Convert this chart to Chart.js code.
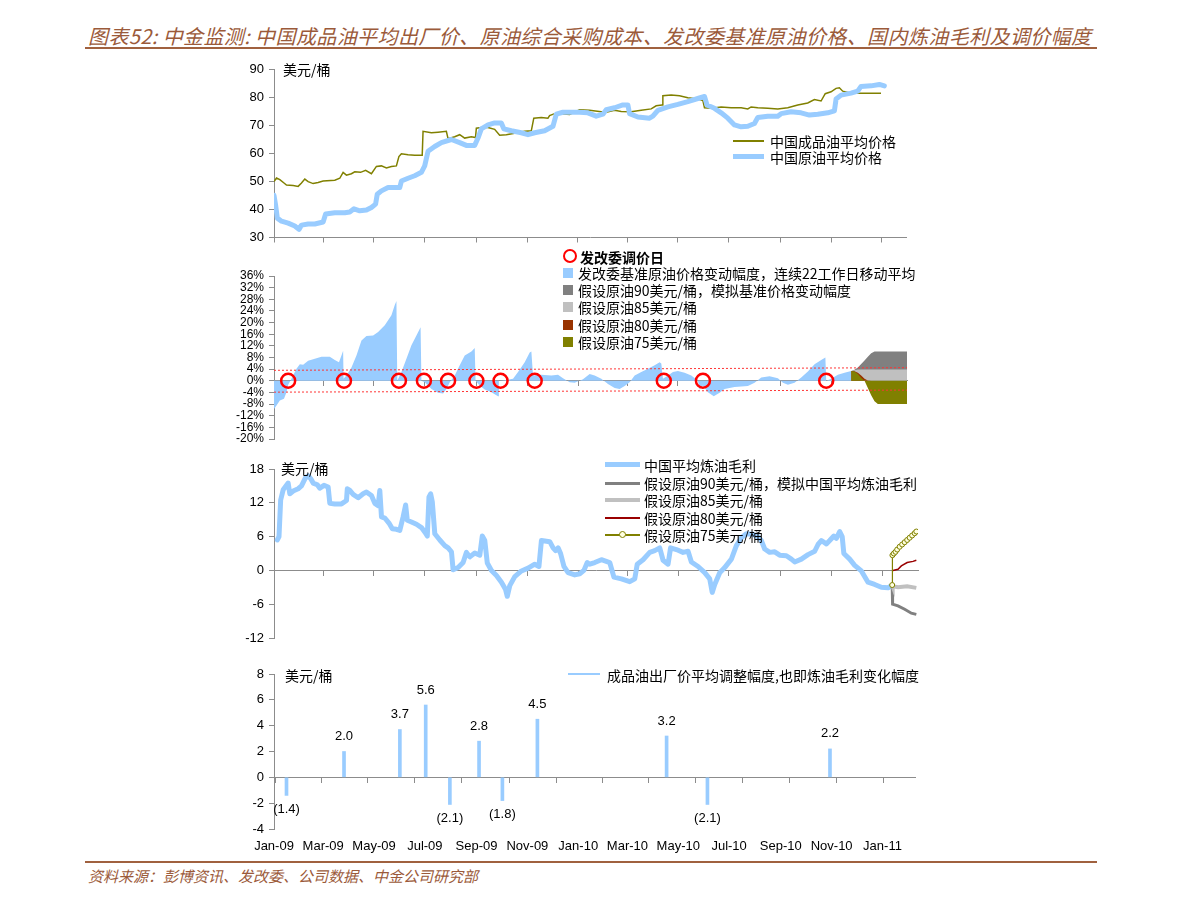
<!DOCTYPE html>
<html lang="zh-CN">
<head>
<meta charset="utf-8">
<title>中金监测</title>
<script src="https://cdn.jsdelivr.net/npm/chart.js@4.4.1/dist/chart.umd.min.js"></script>
<style>
html,body{margin:0;padding:0;background:#fff;}
#page{position:relative;width:1191px;height:904px;overflow:hidden;font-family:"Noto Sans CJK SC","Liberation Sans",sans-serif;}
#page canvas{position:absolute;}
.t{position:absolute;white-space:nowrap;line-height:20px;height:20px;}
.title{font-size:20px;font-style:italic;color:#9B5A3A;letter-spacing:0.4px;}
.foot{font-size:15px;font-style:italic;color:#9B5A3A;}
.rule{position:absolute;left:85px;width:1012px;height:2px;background:#A0613F;}
.leg{font-size:14px;color:#000;}
.sw{position:absolute;}
</style>
</head>
<body>
<div id="page">
  <div class="t title" style="left:88px;top:26px;">图表52: 中金监测: 中国成品油平均出厂价、原油综合采购成本、发改委基准原油价格、国内炼油毛利及调价幅度</div>
  <div class="rule" style="top:47px;"></div>

  <canvas id="c1" width="730" height="194" style="left:200px;top:55px;width:730px;height:194px;"></canvas>
  <canvas id="c2" width="730" height="200" style="left:200px;top:250px;width:730px;height:200px;"></canvas>
  <canvas id="c3" width="730" height="200" style="left:200px;top:455px;width:730px;height:200px;"></canvas>
  <canvas id="c4" width="730" height="205" style="left:200px;top:655px;width:730px;height:205px;"></canvas>

  <!-- panel 1 -->
  <div class="t leg" style="left:283px;top:59px;">美元/桶</div>
  <div class="sw" style="left:733px;top:140px;width:31px;height:1.5px;background:#808000;"></div>
  <div class="t leg" style="left:770px;top:131px;">中国成品油平均价格</div>
  <div class="sw" style="left:733px;top:154px;width:31px;height:5px;background:#99CCFF;"></div>
  <div class="t leg" style="left:770px;top:147px;">中国原油平均价格</div>

  <!-- panel 2 -->
  <div class="sw" style="left:563px;top:249px;width:10px;height:10px;border:2.5px solid #FF0000;border-radius:50%;"></div>
  <div class="t leg" style="left:580px;top:247px;font-weight:bold;">发改委调价日</div>
  <div class="sw" style="left:563px;top:268px;width:10px;height:10px;background:#99CCFF;"></div>
  <div class="t leg" style="left:578px;top:263px;">发改委基准原油价格变动幅度，连续22工作日移动平均</div>
  <div class="sw" style="left:563px;top:285px;width:10px;height:10px;background:#808080;"></div>
  <div class="t leg" style="left:578px;top:280px;">假设原油90美元/桶，模拟基准价格变动幅度</div>
  <div class="sw" style="left:563px;top:302px;width:10px;height:10px;background:#C0C0C0;"></div>
  <div class="t leg" style="left:578px;top:297px;">假设原油85美元/桶</div>
  <div class="sw" style="left:563px;top:320px;width:10px;height:10px;background:#993300;"></div>
  <div class="t leg" style="left:578px;top:315px;">假设原油80美元/桶</div>
  <div class="sw" style="left:563px;top:337px;width:10px;height:10px;background:#808000;"></div>
  <div class="t leg" style="left:578px;top:332px;">假设原油75美元/桶</div>

  <!-- panel 3 -->
  <div class="t leg" style="left:281px;top:458px;">美元/桶</div>
  <div class="sw" style="left:605px;top:462px;width:35px;height:5px;background:#99CCFF;"></div>
  <div class="t leg" style="left:644px;top:455px;">中国平均炼油毛利</div>
  <div class="sw" style="left:605px;top:482px;width:35px;height:3px;background:#808080;"></div>
  <div class="t leg" style="left:644px;top:473px;">假设原油90美元/桶，模拟中国平均炼油毛利</div>
  <div class="sw" style="left:605px;top:498px;width:35px;height:4px;background:#C0C0C0;"></div>
  <div class="t leg" style="left:644px;top:490px;">假设原油85美元/桶</div>
  <div class="sw" style="left:605px;top:517px;width:35px;height:1.5px;background:#990000;"></div>
  <div class="t leg" style="left:644px;top:508px;">假设原油80美元/桶</div>
  <div class="sw" style="left:605px;top:534px;width:35px;height:1.5px;background:#808000;"></div>
  <div class="sw" style="left:619px;top:531px;width:5px;height:5px;border:1px solid #808000;border-radius:50%;background:#FFFFE0;"></div>
  <div class="t leg" style="left:644px;top:525px;">假设原油75美元/桶</div>

  <!-- panel 4 -->
  <div class="t leg" style="left:285px;top:665px;">美元/桶</div>
  <div class="sw" style="left:568px;top:673px;width:32px;height:2px;background:#99CCFF;"></div>
  <div class="t leg" style="left:607px;top:665px;">成品油出厂价平均调整幅度,也即炼油毛利变化幅度</div>

  <div class="rule" style="top:861px;"></div>
  <div class="t foot" style="left:88px;top:866px;">资料来源：彭博资讯、发改委、公司数据、中金公司研究部</div>
</div>

<script>
// ---------- data (days counted from 1 Jan 2009) ----------
const tickDays   = [0, 59, 120, 181, 243, 304, 365, 424, 485, 546, 608, 669, 730];
const tickLabels = ['Jan-09','Mar-09','May-09','Jul-09','Sep-09','Nov-09','Jan-10','Mar-10','May-10','Jul-10','Sep-10','Nov-10','Jan-11'];

// panel 1: China average product price / crude price (USD/bbl)
const productDays  = [0,3,7,12,15,23,29,33,37,41,47,53,59,73,79,83,87,93,97,104,110,117,123,129,135,141,147,150,153,161,169,178,179,189,197,207,209,217,223,229,237,242,243,249,257,265,271,279,289,301,309,312,321,329,331,337,345,355,367,379,393,399,409,417,429,441,453,459,466,467,477,487,497,509,515,517,525,537,549,561,569,573,581,593,605,617,629,641,649,657,662,669,675,679,683,693,729];
const productPrice = [49.9,51.2,50.6,49.4,48.7,48.5,48.2,49.4,50.8,49.9,49.2,49.6,50.1,50.4,51.1,53.2,52.2,52.7,53.4,53.2,53.9,52.7,55.3,55.5,54.8,55.3,55.5,58.8,59.8,59.5,59.3,59.3,67.8,67.3,67.5,67.8,65.2,65.9,66.6,65.4,65.9,65.6,68.9,69.2,69.2,68.5,66.4,66.6,67.1,67.8,68.0,72.5,72.7,72.5,73.4,74.1,74.1,73.8,75.5,75.3,74.8,74.6,75.3,74.9,74.8,75.3,75.8,76.9,77.2,80.5,80.7,80.5,79.8,79.3,78.8,76.2,76.0,76.5,76.2,76.2,75.8,76.5,76.2,76.0,75.8,76.2,77.2,77.9,79.1,78.6,81.2,81.9,83.1,83.3,82.1,81.4,81.4];
const crudeDays  = [0,2,4,9,17,25,30,33,41,49,59,62,73,85,91,96,103,111,117,122,124,129,137,151,153,161,169,177,181,185,193,201,213,223,231,241,245,249,257,265,273,276,285,297,305,313,325,335,339,347,355,367,377,387,395,399,409,419,425,427,437,451,455,461,473,485,497,509,517,520,529,537,545,553,561,569,577,581,593,605,609,621,633,643,653,665,673,675,681,693,701,705,717,727,733];
const crudePrice = [45.0,41.4,36.9,35.8,35.1,34.1,32.9,34.4,34.8,34.8,35.5,38.4,38.8,38.8,39.1,40.2,39.5,39.8,40.7,41.9,45.4,46.6,47.8,47.8,50.1,51.1,52.0,53.2,55.5,60.7,62.4,63.8,64.9,63.8,62.8,62.8,65.4,68.7,70.1,70.8,70.8,68.7,68.0,67.3,66.6,67.3,68.0,69.6,73.9,74.6,74.6,74.6,74.4,73.2,73.9,75.5,76.2,77.2,77.2,74.1,72.9,72.5,73.2,75.3,76.5,77.4,78.4,79.5,80.2,77.2,76.0,74.4,72.5,70.1,69.4,69.6,70.6,72.7,73.2,73.2,74.1,74.8,74.4,73.6,73.9,74.4,75.1,79.3,80.7,81.4,82.1,83.8,84.0,84.5,84.0];

// panel 2: NDRC benchmark crude change, 22-day moving average (%)
const ndrcDays   = [0,3,7,12,15,17,21,27,31,35,41,49,57,67,73,78,81,83,83.5,87,93,99,105,111,119,125,133,141,145,147,148,153,159,165,171,176,177,181,189,197,203,207,211,217,223,229,237,241,242,247,253,261,269,270,277,287,293,301,307,309,311,321,333,341,347,355,361,371,379,385,393,401,409,415,421,427,433,441,449,457,463,465,467,473,479,485,493,501,509,511,515,521,528,535,541,553,569,577,585,595,605,611,617,625,633,641,649,657,662,663,669,677,685,693];
const ndrcChange = [-9.7,-8.5,-6.8,-6.2,-3.9,-1.4,0.7,4.1,5.7,5.5,6.9,7.6,8.3,8.3,7.1,6.4,8.7,10.3,0.7,1.8,4.6,8.7,13.8,15.4,15.6,16.8,19.1,22.5,26.0,27.4,0,3.0,7.6,12.2,15.6,18.4,0,-0.5,-2.8,-4.1,-4.4,-2.8,-0.5,1.8,5.3,8.7,10.1,11.3,0,-1.6,-3.0,-3.9,-5.3,0,0.2,0.7,3.0,6.4,9.7,10.1,1.8,2.1,1.8,2.1,0.9,-0.5,-0.7,0.5,2.3,1.8,0.7,-1.1,-2.5,-2.8,-1.8,-0.5,1.8,3.0,4.1,5.3,6.4,5.9,0.7,1.8,3.0,3.4,2.8,1.8,0,-3.0,-1.6,-3.9,-5.3,-4.1,-2.8,-2.1,-1.8,-0.7,1.1,1.6,0.9,-0.7,-1.4,-0.7,1.1,3.2,5.7,7.1,8.0,0,0.7,2.1,2.8,3.4];
const scenDays   = [693,697,701,705,709,713,717,721,725,760];
const scen90     = [3.4,3.8,4.6,5.8,7.0,8.3,9.5,10.1,10.1,10.1];
const scen85     = [3.4,3.6,3.9,3.9,3.9,3.9,3.9,3.9,3.9,3.9];
const scen80     = [3.4,3.3,2.8,1.8,0.7,0.1,0,0,0,0];
const scen75     = [3.4,3.2,2.3,1.0,0,-2.5,-5.0,-7.0,-8.0,-8.0];
const bandDays   = [0, 760];
const bandUpper  = [3.6, 4.5];
const bandLower  = [-3.9, -3.2];
const adjDaysP2  = [17,84,150,180,209,243,272,313,468,515,663];

// panel 3: China average refining margin (USD/bbl)
const marginDays  = [4,6,8,11,15,17,19,23,29,33,38,41,44,47,52,55,60,65,67,73,81,87,88,91,95,101,107,111,117,121,125,127,129,133,138,142,147,151,155,158,160,165,171,177,182,184,186,188,190,193,199,205,209,213,215,221,227,231,235,241,247,250,253,256,261,267,273,278,280,283,289,297,305,313,318,321,331,335,338,341,344,348,353,361,367,372,376,379,385,393,403,408,417,427,433,436,443,451,457,463,467,473,476,483,491,497,501,509,517,523,526,529,535,541,549,555,561,567,575,581,585,589,595,601,607,615,621,625,633,641,649,653,657,663,667,672,675,679,682,684,691,697,705,713,721,729,737,742];
const marginValue = [5.4,6.0,12.5,14.3,15.1,15.5,13.6,14.1,14.5,15.0,16.5,16.8,16.3,15.5,15.2,14.6,15.1,14.8,11.9,11.8,11.8,12.4,14.5,14.2,13.5,12.9,13.6,13.9,13.3,11.9,11.5,14.2,9.5,9.3,8.4,7.4,7.3,7.1,9.5,11.6,8.9,8.6,8.2,7.6,6.6,6.1,13.0,13.6,12.2,6.5,5.4,4.4,4.0,3.3,0.1,0.5,1.4,3.2,2.4,3.1,2.7,6.1,5.3,1.3,0,-0.9,-2.1,-3.4,-4.6,-2.7,-1.1,-0.1,0.4,1.1,0.7,5.3,5.1,4.0,3.5,4.0,3.0,0.7,-0.4,-0.8,-0.6,0,1.4,1.1,1.4,1.9,1.4,-1.2,-1.5,-2.0,-1.5,1.1,1.9,3.2,3.5,4.0,1.8,1.1,4.0,3.7,3.2,3.4,1.5,0.7,-0.4,-1.5,-3.9,-2.5,-0.4,0.5,2.0,4.4,5.8,6.5,6.4,6.0,5.3,3.8,3.2,3.3,2.7,2.6,2.0,1.5,2.0,2.8,3.4,4.6,5.3,4.7,5.3,6.1,5.7,6.9,6.0,3.0,2.0,0.9,-0.1,-2.1,-2.5,-3.0,-3.1,-2.6];
const m90Days = [742,742.5,749,757,765,771];
const m90     = [-2.6,-6.0,-6.3,-6.9,-7.6,-7.8];
const m85Days = [742,742.5,749,760,771];
const m85     = [-2.6,-2.8,-3.0,-2.8,-3.1];
const m80Days = [743,749,753,760,767,771];
const m80     = [0,0.2,0.8,1.4,1.6,1.8];
const m75Days = [742,742.3,744,746,748,751,754,757,760,763,766,769,771];
const m75     = [-2.6,2.7,3.0,3.3,3.7,4.2,4.6,5.0,5.4,5.8,6.2,6.6,6.9];

// panel 4: average ex-refinery price adjustment (USD/bbl)
const adjDays   = [15,84,151,182,211,246,274,316,471,520,667];
const adjValues = [-1.4,2.0,3.7,5.6,-2.1,2.8,-1.8,4.5,3.2,-2.1,2.2];

// ---------- helpers ----------
const AX = '#8C8C8C';
const BLUE = '#99CCFF';
const pts = (xs, ys) => xs.map((x, i) => ({x: x, y: ys[i]}));
Chart.defaults.font.family = '"Liberation Sans", Arial, sans-serif';
Chart.defaults.font.size = 13;
Chart.defaults.color = '#000';

function yCfg(min, max, step, fmt, fsize) {
  return {
    type: 'linear', position: 'left', min: min, max: max,
    ticks: {stepSize: step, autoSkip: false, padding: 5, color: '#000',
      font: {size: fsize || 13, lineHeight: 1}, callback: fmt || (v => v)},
    grid: {drawOnChartArea: false, drawTicks: true, tickLength: 5, color: AX},
    border: {display: true, color: AX},
    afterFit(s) { s.width = 74; }
  };
}
function xMarks(max, pos) {
  return {
    type: 'linear', min: 0, max: max, position: pos,
    afterBuildTicks(s) { s.ticks = tickDays.map(v => ({value: v})); },
    ticks: {display: false},
    grid: {drawOnChartArea: false, drawTicks: true, tickLength: 5, color: AX},
    border: {display: true, color: AX},
    afterFit(s) { s.height = (pos === 'bottom') ? 8 : 0; }
  };
}
function baseOpts(pad, scales) {
  return {
    responsive: false, animation: false, devicePixelRatio: 1, events: [],
    layout: {padding: pad},
    plugins: {legend: {display: false}, tooltip: {enabled: false}},
    elements: {point: {radius: 0}, line: {tension: 0}},
    scales: scales
  };
}
function lineDs(data, color, width, extra) {
  return Object.assign({type: 'line', data: data, borderColor: color, borderWidth: width,
    pointRadius: 0, fill: false, tension: 0}, extra || {});
}

// ---------- panel 1 ----------
new Chart(document.getElementById('c1'), {
  type: 'line',
  data: {datasets: [
    lineDs(pts(crudeDays, crudePrice), BLUE, 5, {order: 0, borderJoinStyle: 'round', borderCapStyle: 'round'}),
    lineDs(pts(productDays, productPrice), '#808000', 1.5, {order: 1})
  ]},
  options: baseOpts({top: 14, right: 24, bottom: 2, left: 0}, {
    x: xMarks(759, 'bottom'),
    y: yCfg(30, 90, 10)
  })
});

// ---------- panel 2 ----------
new Chart(document.getElementById('c2'), {
  type: 'line',
  data: {datasets: [
    lineDs(adjDaysP2.map(d => ({x: d, y: 0})), '#FF0000', 0, {order: 0, showLine: false,
      pointRadius: 7, pointStyle: 'circle', pointBorderWidth: 2.5, pointBorderColor: '#FF0000',
      pointBackgroundColor: 'rgba(0,0,0,0)'}),
    lineDs(pts(bandDays, bandUpper), '#FF3333', 1, {order: 1, borderDash: [2, 2]}),
    lineDs(pts(bandDays, bandLower), '#FF3333', 1, {order: 1, borderDash: [2, 2]}),
    lineDs(pts(scenDays, scen75), '#808000', 0, {order: 2, fill: 'origin', backgroundColor: '#808000'}),
    lineDs(pts(scenDays, scen80), '#993300', 0, {order: 3, fill: 'origin', backgroundColor: '#993300'}),
    lineDs(pts(scenDays, scen85), '#C0C0C0', 0, {order: 4, fill: 'origin', backgroundColor: '#C0C0C0'}),
    lineDs(pts(scenDays, scen90), '#808080', 0, {order: 5, fill: 'origin', backgroundColor: '#808080'}),
    lineDs(pts(ndrcDays, ndrcChange), BLUE, 0, {order: 6, fill: 'origin', backgroundColor: BLUE})
  ]},
  options: baseOpts({top: 26, right: 23, bottom: 11, left: 0}, {
    x: xMarks(760, {y: 0}),
    y: yCfg(-20, 36, 4, v => v + '%', 12)
  })
});

// ---------- panel 3 ----------
new Chart(document.getElementById('c3'), {
  type: 'line',
  data: {datasets: [
    lineDs(pts(m75Days, m75), '#808000', 1.2, {order: 0, pointRadius: 2.5, pointBorderWidth: 1,
      pointBorderColor: '#808000', pointBackgroundColor: '#FFFFE0'}),
    lineDs(pts(m80Days, m80), '#990000', 1.5, {order: 1}),
    lineDs(pts(m85Days, m85), '#C0C0C0', 4, {order: 2}),
    lineDs(pts(m90Days, m90), '#808080', 3, {order: 3}),
    lineDs(pts(marginDays, marginValue), BLUE, 5, {order: 4, borderJoinStyle: 'round', borderCapStyle: 'round'})
  ]},
  options: baseOpts({top: 14, right: 12, bottom: 17, left: 0}, {
    x: xMarks(773, {y: 0}),
    y: yCfg(-12, 18, 6)
  })
});

// ---------- panel 4 ----------
const barLabels = {
  id: 'barLabels',
  afterDatasetsDraw(chart) {
    const ctx = chart.ctx;
    const meta = chart.getDatasetMeta(0);
    ctx.save();
    ctx.font = '13px "Liberation Sans", Arial, sans-serif';
    ctx.fillStyle = '#000';
    ctx.textAlign = 'center';
    ctx.textBaseline = 'middle';
    meta.data.forEach((el, i) => {
      const v = adjValues[i];
      const txt = v < 0 ? '(' + Math.abs(v).toFixed(1) + ')' : v.toFixed(1);
      ctx.fillText(txt, el.x, v < 0 ? el.y + 14 : el.y - 15);
    });
    ctx.restore();
  }
};
new Chart(document.getElementById('c4'), {
  type: 'bar',
  data: {datasets: [{
    data: pts(adjDays, adjValues), backgroundColor: BLUE, borderWidth: 0,
    barThickness: 3, xAxisID: 'x', yAxisID: 'y'
  }]},
  options: baseOpts({top: 19, right: 15, bottom: 1, left: 0}, {
    x: {
      type: 'linear', min: 0, max: 769, position: 'bottom', offset: false,
      afterBuildTicks(s) { s.ticks = tickDays.map(v => ({value: v})); },
      ticks: {autoSkip: false, maxRotation: 0, minRotation: 0, padding: 10, color: '#000',
        font: {size: 13}, callback: (v, i) => tickLabels[i]},
      grid: {display: false, drawTicks: false},
      border: {display: false},
      afterFit(s) { s.height = 30; }
    },
    x2: xMarks(769, {y: 0}),
    y: yCfg(-4, 8, 2)
  }),
  plugins: [barLabels]
});
</script>
</body>
</html>
